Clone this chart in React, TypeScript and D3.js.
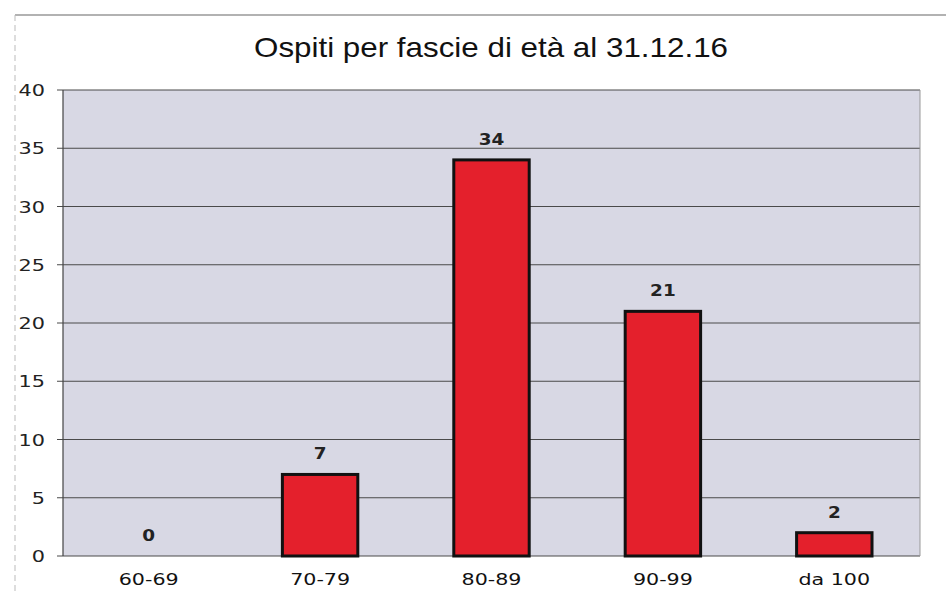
import React from "react";
import * as d3 from "d3";

const categories = ["60-69", "70-79", "80-89", "90-99", "da 100"];
const values = [0, 7, 34, 21, 2];
const yTicks = [0, 5, 10, 15, 20, 25, 30, 35, 40];
const title = "Ospiti per fascie di età al 31.12.16";

function SText(props: { x: number; y: number; sx: number; anchor: string; size: number; bold?: boolean; family: string; fill?: string; children: any }) {
  return (
    <text
      transform={`translate(${props.x},${props.y}) scale(${props.sx},1)`}
      textAnchor={props.anchor}
      fontFamily={props.family}
      fontSize={props.size}
      fontWeight={props.bold ? "bold" : "normal"}
      fill={props.fill || "#111"}
    >
      {props.children}
    </text>
  );
}

export default function App() {
  const W = 946, H = 593;
  const left = 63, right = 920, top = 90, bottom = 556;
  const x = d3.scaleBand<string>().domain(categories).range([left, right]).paddingInner(0.56).paddingOuter(0.28);
  const y = d3.scaleLinear().domain([0, 40]).range([bottom, top]);
  return (
    <svg width={W} height={H} style={{ position: "absolute", left: 0, top: 0, background: "#fff" }}>
      <line x1={15} x2={946} y1={15} y2={15} stroke="#999" strokeWidth={1.5} />
      <line x1={15} x2={15} y1={15} y2={593} stroke="#bbb" strokeWidth={1} strokeDasharray="6,4" />
      <SText x={491} y={57} sx={1.12} anchor="middle" family="Liberation Sans, Arial" size={28}>{title}</SText>
      <rect x={left} y={top} width={right - left} height={bottom - top} fill="#d8d8e4" />
      {yTicks.map((t) => (
        <g key={t}>
          <line x1={left - 6} x2={right} y1={y(t)} y2={y(t)} stroke="#4a4a4a" strokeWidth={1.2} />
          <SText x={45} y={y(t) + 6} sx={1.3} anchor="end" family="DejaVu Sans, Verdana" size={16} fill="#222">{t}</SText>
        </g>
      ))}
      <line x1={left} x2={left} y1={top} y2={bottom} stroke="#444" strokeWidth={1.2} />
      <line x1={right} x2={right} y1={top} y2={bottom} stroke="#999" strokeWidth={1} />
      {categories.map((c, i) => {
        const v = values[i];
        const bx = x(c)!;
        const cx = bx + x.bandwidth() / 2;
        return (
          <g key={c}>
            {v > 0 && (
              <rect x={bx} y={y(v)} width={x.bandwidth()} height={bottom - y(v)} fill="#e4202c" stroke="#111" strokeWidth={3} />
            )}
            <SText x={cx} y={y(v) - 15} sx={1.15} anchor="middle" family="DejaVu Sans, Verdana" bold size={16} fill="#222">{v}</SText>
            <SText x={cx} y={585} sx={1.25} anchor="middle" family="DejaVu Sans, Verdana" size={16.5} fill="#111">{c}</SText>
          </g>
        );
      })}
    </svg>
  );
}
